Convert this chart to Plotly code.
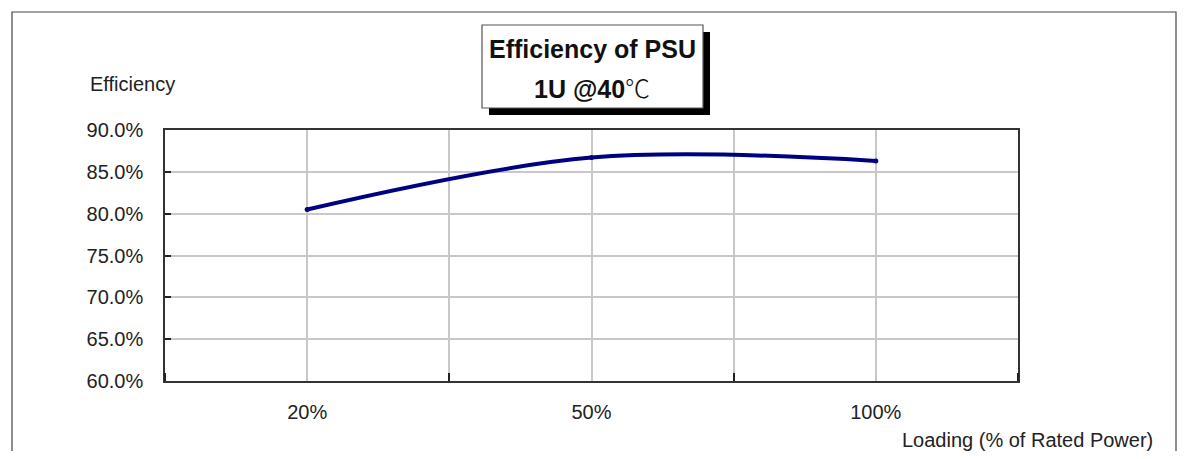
import plotly.graph_objects as go

categories = ["20%", "50%", "100%"]
efficiency = [80.5, 86.7, 86.3]
y_ticks = [60, 65, 70, 75, 80, 85, 90]
y_tick_text = [f"{v:.1f}%" for v in y_ticks]

# page offset caused by the default 8px body margin
OFF = 8
W, H = 1187 - 2 * OFF, 459 - 2 * OFF
L, R, T, B = 165, 1018, 130, 381  # plot area in page pixels

def px(x):
    return (x - L) / (R - L)

def py(y):
    return (B - y) / (B - T)

xs = list(range(len(categories)))

fig = go.Figure()
fig.add_trace(go.Scatter(
    x=xs, y=efficiency, mode="lines+markers",
    line=dict(color="#000080", width=4, shape="spline", smoothing=1),
    marker=dict(color="#000080", size=5),
    showlegend=False, hoverinfo="skip",
))

font = "Liberation Sans, Arial, sans-serif"
txt = "#222222"

fig.update_layout(
    width=W, height=H,
    margin=dict(l=L - OFF, r=W - (R - OFF), t=T - OFF, b=H - (B - OFF), pad=0),
    paper_bgcolor="white", plot_bgcolor="white",
    font=dict(family=font, size=20, color=txt),
    xaxis=dict(
        range=[-0.5, len(categories) - 0.5],
        tickvals=xs, ticktext=categories, ticks="",
        showgrid=True, gridcolor="#c8c8c8", gridwidth=2,
        showline=True, linecolor="#333333", linewidth=1.5, mirror=True,
        zeroline=False, ticklabelstandoff=12,
        minor=dict(tick0=0.5, dtick=1, ticks="inside", ticklen=8,
                   tickcolor="#222222", tickwidth=1.5,
                   showgrid=True, gridcolor="#c8c8c8", gridwidth=2),
        tickfont=dict(size=20, color=txt),
    ),
    yaxis=dict(
        range=[60, 90], tickvals=y_ticks, ticktext=y_tick_text,
        ticks="inside", ticklen=6, tickcolor="#222222", tickwidth=1.5,
        showgrid=True, gridcolor="#c8c8c8", gridwidth=2,
        showline=True, linecolor="#333333", linewidth=1.5, mirror=True,
        zeroline=False, ticklabelstandoff=16,
        tickfont=dict(size=20, color=txt),
    ),
    shapes=[
        dict(type="rect", xref="paper", yref="paper",
             x0=px(12), x1=px(1176), y0=py(520), y1=py(12),
             line=dict(color="#444444", width=1.2), fillcolor="rgba(0,0,0,0)", layer="below"),
        dict(type="rect", xref="paper", yref="paper",
             x0=px(489), x1=px(710), y0=py(115), y1=py(32),
             line=dict(width=0), fillcolor="black"),
        dict(type="rect", xref="paper", yref="paper",
             x0=px(482), x1=px(703), y0=py(108), y1=py(25),
             line=dict(color="#555555", width=1.2), fillcolor="white"),
    ],
    annotations=[
        dict(text="<b>Efficiency of PSU</b>", xref="paper", yref="paper",
             x=px(592), y=py(49), showarrow=False, yanchor="middle",
             font=dict(size=25, color="#111111")),
        dict(text="<b>1U @40</b><span style='font-family:Noto Sans CJK SC;font-weight:300'>℃</span>",
             xref="paper", yref="paper",
             x=px(592), y=py(87), showarrow=False, yanchor="middle",
             font=dict(size=25, color="#111111")),
        dict(text="Efficiency", xref="paper", yref="paper",
             x=px(88), y=py(84), xanchor="left", yanchor="middle", showarrow=False,
             font=dict(size=20, color=txt)),
        dict(text="Loading (% of Rated Power)", xref="paper", yref="paper",
             x=px(1155), y=py(440), xanchor="right", yanchor="middle", showarrow=False,
             font=dict(size=20, color=txt)),
    ],
)

fig.write_html("out.html")
